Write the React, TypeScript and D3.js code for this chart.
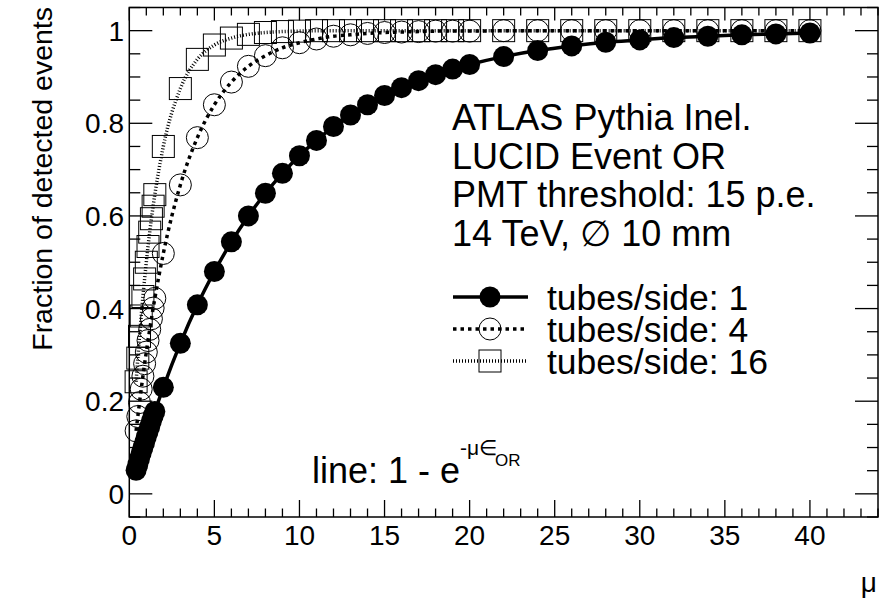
import React from "react";
import * as d3 from "d3";

// Mean number of interactions per bunch crossing
const MU = [
  0.4, 0.5, 0.6, 0.7, 0.8, 0.9, 1.0, 1.1, 1.2, 1.3, 1.4, 1.5,
  2, 3, 4, 5, 6, 7, 8, 9, 10, 11, 12, 13, 14, 15, 16, 17, 18, 19, 20,
  22, 24, 26, 28, 30, 32, 34, 36, 38, 40,
];

// Fraction of detected events, one tube per side
const FRAC_1 = [
  0.051, 0.063, 0.076, 0.088, 0.1, 0.111, 0.123, 0.134, 0.145, 0.157, 0.168, 0.178,
  0.23, 0.325, 0.408, 0.48, 0.544, 0.6, 0.649, 0.692, 0.73, 0.763, 0.793, 0.818, 0.84,
  0.86, 0.877, 0.892, 0.905, 0.917, 0.927,
  0.944, 0.957, 0.967, 0.975, 0.98, 0.985, 0.988, 0.991, 0.993, 0.995,
];

// Four tubes per side
const FRAC_4 = [
  0.136, 0.167, 0.197, 0.226, 0.254, 0.281, 0.306, 0.331, 0.355, 0.378, 0.401, 0.422,
  0.519, 0.667, 0.769, 0.84, 0.889, 0.923, 0.946, 0.963, 0.974, 0.982, 0.988, 0.991,
  0.994, 0.996, 0.997, 0.998, 0.999, 0.999, 0.999,
  1.0, 1.0, 1.0, 1.0, 1.0, 1.0, 1.0, 1.0, 1.0, 1.0,
];

// Sixteen tubes per side
const FRAC_16 = [
  0.242, 0.293, 0.34, 0.384, 0.426, 0.464, 0.5, 0.534, 0.565, 0.594, 0.621, 0.646,
  0.75, 0.875, 0.938, 0.969, 0.984, 0.992, 0.996, 0.998, 0.999, 1.0, 1.0, 1.0, 1.0,
  1.0, 1.0, 1.0, 1.0, 1.0, 1.0,
  1.0, 1.0, 1.0, 1.0, 1.0, 1.0, 1.0, 1.0, 1.0, 1.0,
];

const X_TICKS = [0, 5, 10, 15, 20, 25, 30, 35, 40];
const Y_TICKS = [0, 0.2, 0.4, 0.6, 0.8, 1];
const Y_TICK_LABELS = ["0", "0.2", "0.4", "0.6", "0.8", "1"];

const INFO_LINES = [
  "ATLAS Pythia Inel.",
  "LUCID Event OR",
  "PMT threshold: 15 p.e.",
  "14 TeV, \u2205 10 mm",
];
const LEGEND_LABELS = ["tubes/side: 1", "tubes/side: 4", "tubes/side: 16"];

const W = 879;
const H = 603;
const FONT = "'Liberation Sans', Arial, Helvetica, sans-serif";

const left = 129.3;
const right = 878;
const top = 7.5;
const bottom = 517;

const x = d3.scaleLinear().domain([0, 44]).range([left, right]);
const y = d3.scaleLinear().domain([-0.05, 1.05]).range([bottom, top]);

type Pt = [number, number];
const pts = (vals: number[]): Pt[] => MU.map((m, i) => [m, vals[i]]);

const lineGen = d3
  .line<Pt>()
  .x((d) => x(d[0]))
  .y((d) => y(d[1]))
  .curve(d3.curveMonotoneX);

type Style = {
  kind: "filled" | "circle" | "square";
  width: number;
  dash?: string;
};

const STYLES: Style[] = [
  { kind: "filled", width: 3.5 },
  { kind: "circle", width: 3.5, dash: "3.5,4" },
  { kind: "square", width: 3.5, dash: "1,2" },
];

function Marker({ cx, cy, kind }: { cx: number; cy: number; kind: Style["kind"] }) {
  if (kind === "filled") return <circle cx={cx} cy={cy} r={10.5} fill="#000" />;
  if (kind === "circle")
    return <circle cx={cx} cy={cy} r={11} fill="none" stroke="#000" strokeWidth={1} />;
  return (
    <rect x={cx - 11} y={cy - 11} width={22} height={22} fill="none" stroke="#000" strokeWidth={1} />
  );
}

function Series({ vals, style }: { vals: number[]; style: Style }) {
  const data = pts(vals);
  return (
    <g>
      <path
        d={lineGen(data) || ""}
        fill="none"
        stroke="#000"
        strokeWidth={style.width}
        strokeDasharray={style.dash}
      />
      {data.map((d, i) => (
        <Marker key={i} cx={x(d[0])} cy={y(d[1])} kind={style.kind} />
      ))}
    </g>
  );
}

export default function App() {
  const xMinor = d3.range(0, 45, 1);
  const yMinor = d3.range(-0.05, 1.051, 0.05);
  const legendY = [297, 329, 361];

  return (
    <svg
      width={W}
      height={H}
      style={{ position: "absolute", left: 0, top: 0, background: "#fff" }}
      fontFamily={FONT}
    >
      <rect width={W} height={H} fill="#fff" />

      {/* data: drawn 16 -> 4 -> 1 so filled markers sit on top */}
      <Series vals={FRAC_16} style={STYLES[2]} />
      <Series vals={FRAC_4} style={STYLES[1]} />
      <Series vals={FRAC_1} style={STYLES[0]} />

      {/* frame */}
      <rect
        x={left}
        y={top}
        width={right - left}
        height={bottom - top}
        fill="none"
        stroke="#000"
        strokeWidth={1.5}
      />

      {/* x ticks, bottom and top */}
      {xMinor.map((v) => {
        const major = v % 5 === 0;
        return (
          <g key={`xt${v}`} stroke="#000" strokeWidth={1.3}>
            <line x1={x(v)} x2={x(v)} y1={bottom} y2={bottom - (major ? 17 : 8.5)} />
            <line x1={x(v)} x2={x(v)} y1={top} y2={top + (major ? 13 : 8)} />
          </g>
        );
      })}
      {X_TICKS.map((v) => (
        <text key={`xl${v}`} x={x(v)} y={545} fontSize={28} textAnchor="middle">
          {v}
        </text>
      ))}

      {/* y ticks, left and right */}
      {yMinor.map((v, i) => {
        const major = Math.abs(Math.round(v * 5) - v * 5) < 1e-6;
        const len = major ? 23 : 11;
        return (
          <g key={`yt${i}`} stroke="#000" strokeWidth={1.3}>
            <line x1={left} x2={left + len} y1={y(v)} y2={y(v)} />
            <line x1={right} x2={right - len} y1={y(v)} y2={y(v)} />
          </g>
        );
      })}
      {Y_TICKS.map((v, i) => (
        <text
          key={`yl${v}`}
          x={124}
          y={y(v)}
          dy="0.36em"
          fontSize={28}
          textAnchor="end"
        >
          {Y_TICK_LABELS[i]}
        </text>
      ))}

      {/* axis titles */}
      <text
        transform="translate(52,7) rotate(-90)"
        fontSize={28.5}
        textAnchor="end"
      >
        Fraction of detected events
      </text>
      <text x={877} y={592} fontSize={28} textAnchor="end">
        {"\u03bc"}
      </text>

      {/* info block */}
      {INFO_LINES.map((t, i) => (
        <text key={t} x={452} y={130 + i * 38.5} fontSize={36}>
          {t}
        </text>
      ))}

      {/* legend */}
      {LEGEND_LABELS.map((label, i) => {
        const st = STYLES[i];
        const ly = legendY[i];
        return (
          <g key={label}>
            <line
              x1={453}
              x2={528}
              y1={ly}
              y2={ly}
              stroke="#000"
              strokeWidth={st.width}
              strokeDasharray={st.dash}
            />
            <Marker cx={490} cy={ly} kind={st.kind} />
            <text x={547} y={ly + 12.5} fontSize={35.5}>
              {label}
            </text>
          </g>
        );
      })}

      {/* fit function annotation */}
      <text x={312} y={483} fontSize={36}>
        line: 1 - e
      </text>
      <text x={460} y={455} fontSize={21}>
        -{"\u03bc\u2208"}
      </text>
      <text x={495} y={466} fontSize={17}>
        OR
      </text>
    </svg>
  );
}
